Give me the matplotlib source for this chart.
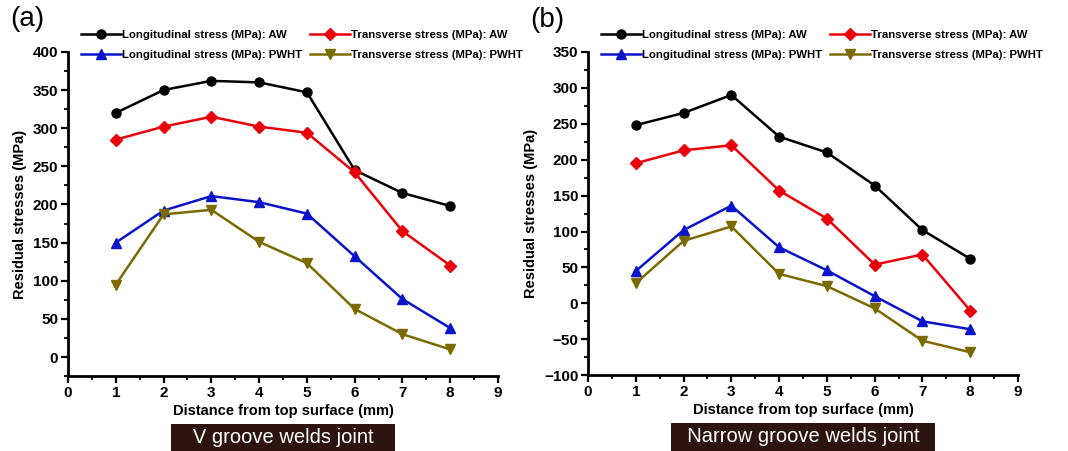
import matplotlib.pyplot as plt
from matplotlib.ticker import MultipleLocator

plt.rcParams['font.family'] = ['Liberation Sans', 'DejaVu Sans']

depth = [1, 2, 3, 4, 5, 6, 7, 8]

# V groove joint
v_long_aw = [320, 350, 362, 360, 347, 245, 215, 198]
v_trans_aw = [285, 302, 315, 302, 294, 242, 165, 120]
v_long_pwht = [150, 192, 211, 203, 188, 132, 76, 38]
v_trans_pwht = [95, 187, 193, 151, 123, 63, 30, 10]

# Narrow groove joint
n_long_aw = [248, 265, 290, 232, 210, 164, 102, 62]
n_trans_aw = [195, 213, 220, 157, 118, 54, 68, -10]
n_long_pwht = [45, 102, 136, 78, 46, 10, -25, -36]
n_trans_pwht = [28, 87, 107, 41, 24, -7, -52, -68]

labels = ["Longitudinal stress (MPa): AW", "Transverse stress (MPa): AW",
          "Longitudinal stress (MPa): PWHT", "Transverse stress (MPa): PWHT"]
colors = ["black", "#e8000b", "#0a14c8", "#7a6a00"]
markers = ["o", "D", "^", "v"]
msizes = [6.5, 6, 7.5, 7.5]


def draw_panel(ax, series, ylim, tag, caption):
    handles = []
    for y, lab, c, m, ms in zip(series, labels, colors, markers, msizes):
        h, = ax.plot(depth, y, color=c, marker=m, markersize=ms, lw=1.8, label=lab)
        handles.append(h)
    ax.set_xlim(0, 9)
    ax.set_ylim(*ylim)
    ax.xaxis.set_major_locator(MultipleLocator(1))
    ax.xaxis.set_minor_locator(MultipleLocator(0.5))
    ax.yaxis.set_major_locator(MultipleLocator(50))
    ax.yaxis.set_minor_locator(MultipleLocator(25))
    for s in ["top", "right"]:
        ax.spines[s].set_visible(False)
    for s in ["left", "bottom"]:
        ax.spines[s].set_linewidth(2)
    ax.tick_params(which="major", direction="out", length=5, width=1.6, labelsize=11, pad=2)
    ax.tick_params(which="minor", direction="out", length=3, width=1.3)
    for t in ax.get_xticklabels() + ax.get_yticklabels():
        t.set_fontweight("bold")
    ax.set_xlabel("Distance from top surface (mm)", fontsize=10.5, fontweight="bold", labelpad=3)
    ax.set_ylabel("Residual stresses (MPa)", fontsize=10.5, fontweight="bold", labelpad=4)
    # legend order: row 1 = AW pair, row 2 = PWHT pair
    order = [handles[0], handles[2], handles[1], handles[3]]
    ax.legend(order, [h.get_label() for h in order], ncol=2, frameon=False,
              loc="lower left", bbox_to_anchor=(0.02, 0.96), handlelength=3.5,
              handletextpad=0.1, columnspacing=0.7, labelspacing=0.9,
              borderaxespad=0, prop={"weight": "bold", "size": 8.2})
    ax.text(-0.135, 1.1, tag, transform=ax.transAxes, fontsize=20, va="center")
    ax.text(0.5, -0.19, caption, transform=ax.transAxes, ha="center", va="center",
            color="white", fontsize=14.5,
            bbox=dict(boxstyle="square,pad=0.22", fc="#2e1410", ec="none"))


fig = plt.figure(figsize=(10.68, 4.51), dpi=100)
ax1 = fig.add_axes([0.0637, 0.166, 0.4026, 0.719])
ax2 = fig.add_axes([0.5506, 0.168, 0.4026, 0.717])

draw_panel(ax1, [v_long_aw, v_trans_aw, v_long_pwht, v_trans_pwht], (-25, 400),
           "(a)", "   V groove welds joint   ")
draw_panel(ax2, [n_long_aw, n_trans_aw, n_long_pwht, n_trans_pwht], (-100, 350),
           "(b)", "  Narrow groove welds joint  ")

fig.savefig("out.png", dpi=100)
